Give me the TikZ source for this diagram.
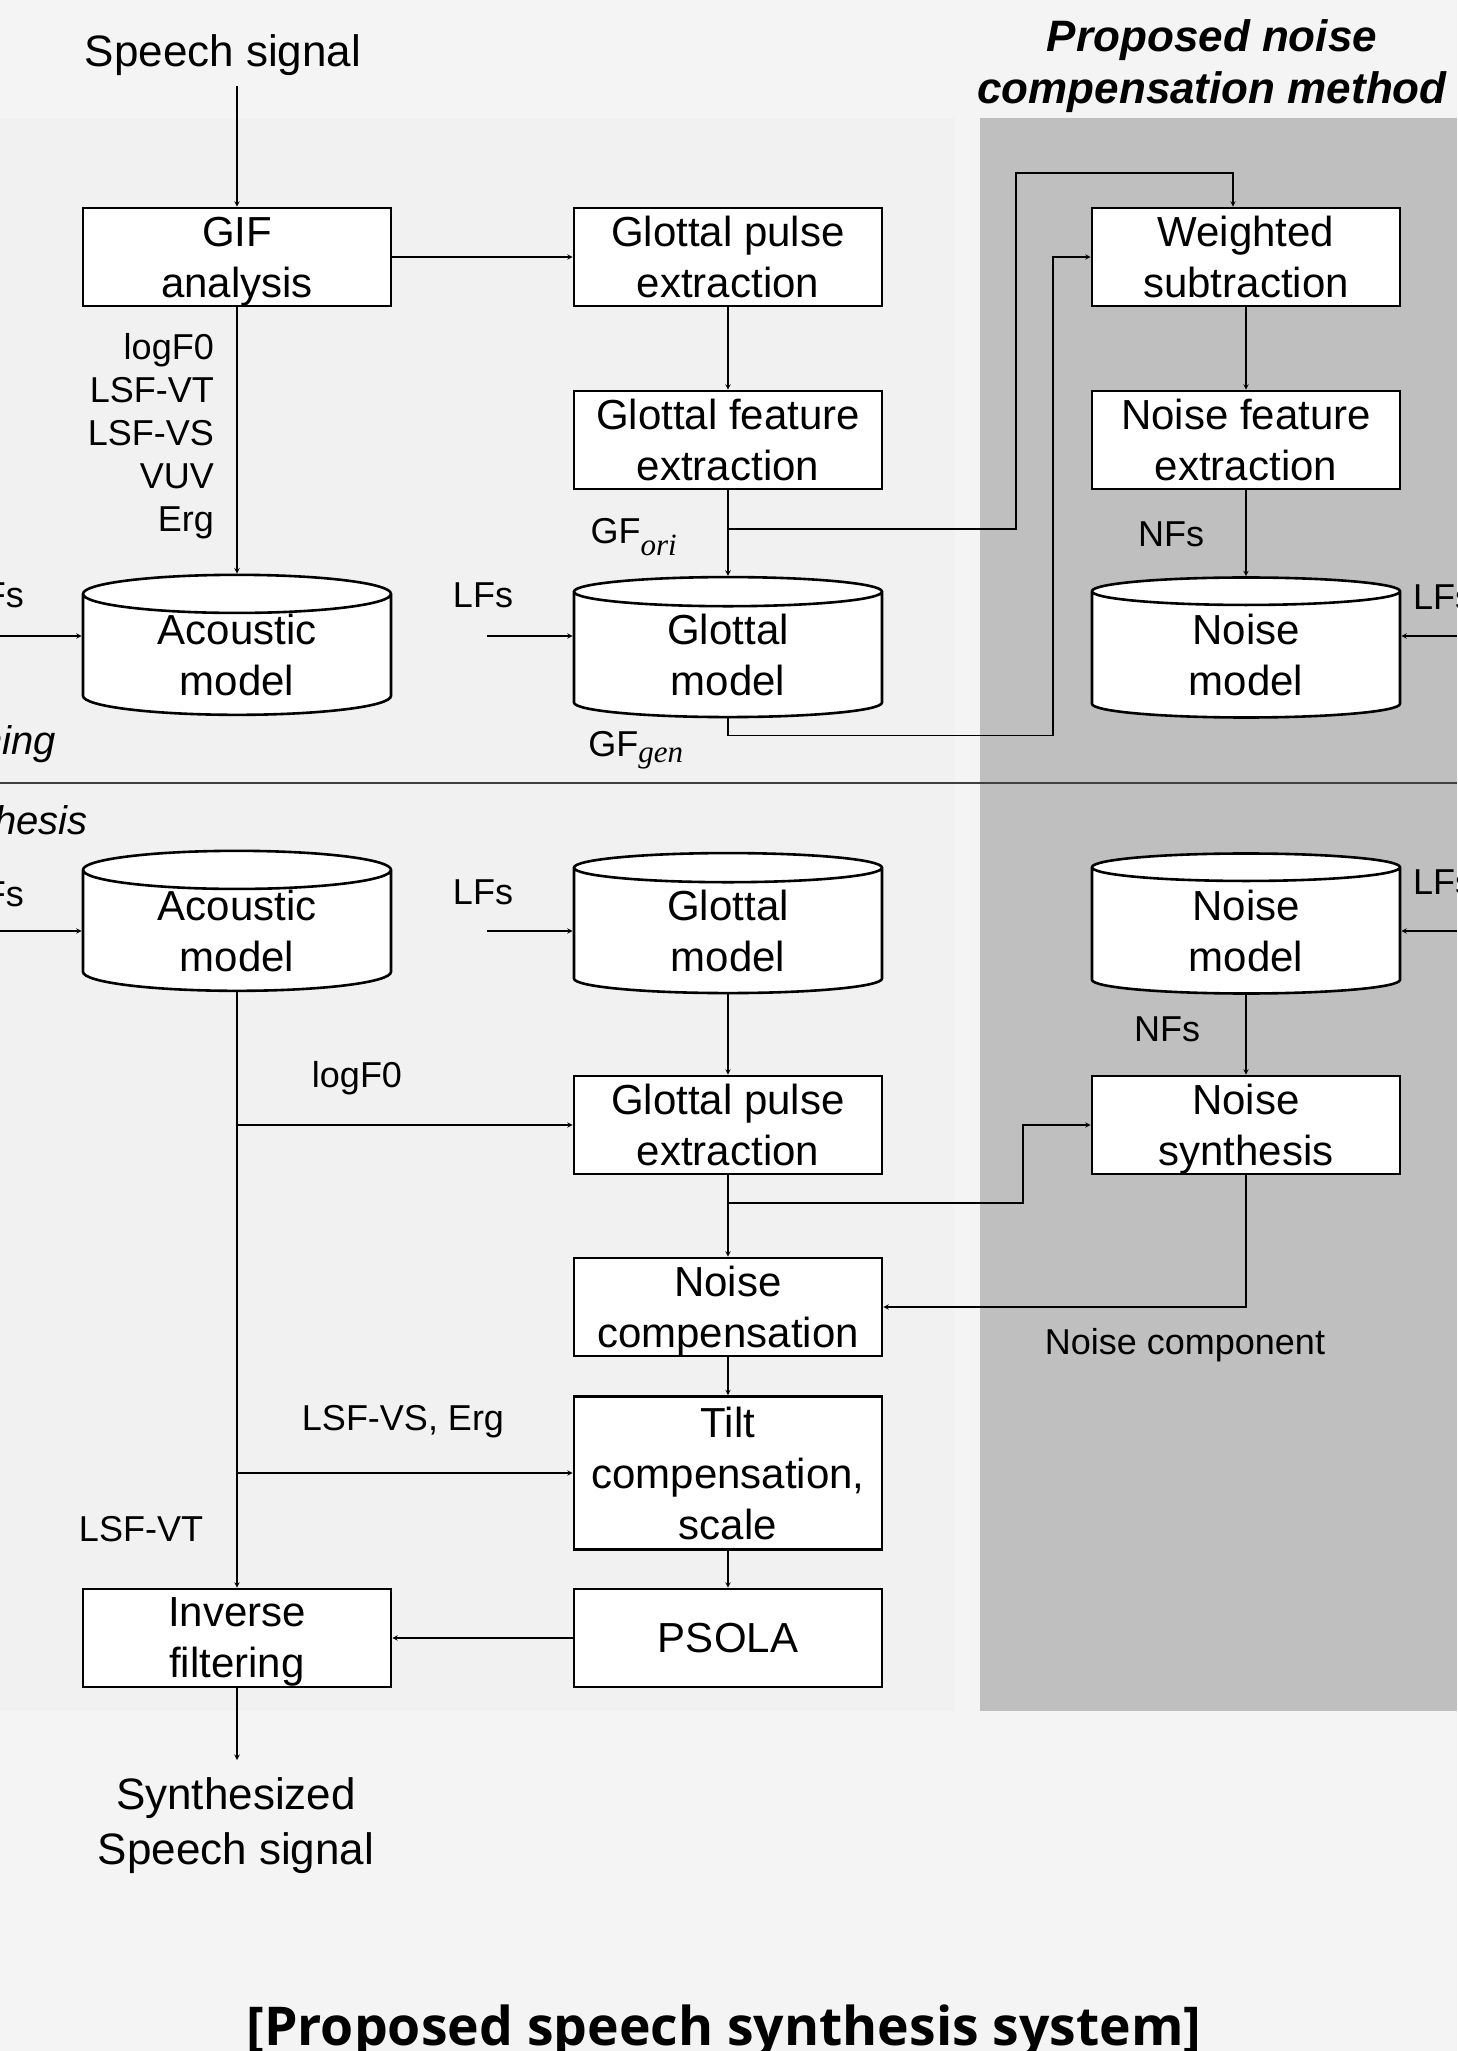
\documentclass[tikz,border=0pt]{standalone}
\usepackage{fontspec}
\setmainfont{Liberation Sans}
\newfontfamily\capfont{Open Sans}
\newfontfamily\subfont{Liberation Serif}
\usetikzlibrary{shapes.geometric}
\definecolor{bgout}{HTML}{F4F4F4}
\definecolor{bgin}{HTML}{F1F1F1}
\definecolor{panel}{HTML}{BFBFBF}

\begin{document}
\begin{tikzpicture}[x=1pt,y=-1pt,>=stealth,
  proc/.style={draw,line width=2.6pt,fill=white,minimum width=308pt,minimum height=98pt,
    inner sep=0pt,align=center,text depth=0pt,font=\fontsize{42}{51}\selectfont},
  db/.style={draw,line width=2.6pt,fill=white,cylinder,shape border rotate=90,aspect=0.24,
    minimum width=308pt,minimum height=140pt,inner sep=0pt,align=center,text depth=0pt,
    font=\fontsize{42}{51}\selectfont},
  lbl/.style={inner sep=0pt,font=\fontsize{36}{43}\selectfont},
  conn/.style={->,line width=1.4pt}]
\useasboundingbox (0,0) rectangle (1457,2051);
\clip (0,0) rectangle (1457,2051);

% background panels
\fill[bgout] (0,0) rectangle (1457,2051);
\fill[bgin] (0,118) rectangle (955,1711);
\fill[panel] (980,118) rectangle (1457,1711);
\draw[line width=2pt,black!75] (0,783) -- (1457,783);

% titles
\node[lbl,font=\fontsize{44}{53}\selectfont] (sig) at (223,55) {Speech signal};
\node[lbl,align=center,font=\bfseries\itshape\fontsize{44}{52}\selectfont] (pnc) at (1212,66)
  {Proposed noise\\compensation method};
\node[lbl,anchor=base east,font=\itshape\fontsize{40}{48}\selectfont] (train) at (56,754) {Training};
\node[lbl,anchor=base east,font=\itshape\fontsize{40}{48}\selectfont] (synth) at (88,834) {Synthesis};

% training part
\node[proc] (gif) at (237,257) {GIF\\analysis};
\node[proc] (gpe) at (728,257) {Glottal pulse\\extraction};
\node[proc] (ws) at (1246,257) {Weighted\\subtraction};
\node[proc] (gfe) at (728,440) {Glottal feature\\extraction};
\node[proc] (nfe) at (1246,440) {Noise feature\\extraction};
\node[db] (am1) at (237,655) {Acoustic\\model};
\node[db] (gm1) at (728,655) {Glottal\\model};
\node[db] (nm1) at (1246,655) {Noise\\model};

\node[lbl,align=right,anchor=east] (acfeat) at (214,436) {logF0\\LSF-VT\\LSF-VS\\VUV\\Erg};
\node[lbl] (gfori) at (634,537) {GF\textsubscript{\subfont\itshape\fontsize{31}{31}\selectfont ori}};
\node[lbl] (gfgen) at (636,750) {GF\textsubscript{\subfont\itshape\fontsize{31}{31}\selectfont gen}};
\node[lbl] (nfs1) at (1171,534) {NFs};
\node[lbl,anchor=east] (lfa1) at (24,595) {LFs};
\node[lbl] (lfg1) at (483,595) {LFs};
\node[lbl,anchor=west] (lfn1) at (1413,597) {LFs};

\coordinate (sigend) at (237,86);
\coordinate (lfa1in) at (0,636);
\coordinate (lfg1in) at (487,636);
\coordinate (lfn1in) at (1457,636);
\coordinate (orisplit) at (728,529);

\draw[conn] (sigend) -- (gif);
\draw[conn] (gif) -- (gpe);
\draw[conn] (gif) -- (am1);
\draw[conn] (gpe) -- (gfe);
\draw[conn] (gfe) -- (gm1);
\draw[conn] (orisplit) -| (1016,173) -| ([xshift=-13pt]ws.north);
\draw[conn] (gm1.south) -- ++(0,17) -| (1053,257) -- (ws.west);
\draw[conn] (ws) -- (nfe);
\draw[conn] (nfe) -- (nm1);
\draw[conn] (lfa1in) -- (lfa1in -| am1.west);
\draw[conn] (lfg1in) -- (lfg1in -| gm1.west);
\draw[conn] (lfn1in) -- (lfn1in -| nm1.east);

% synthesis part
\node[db] (am2) at (237,931) {Acoustic\\model};
\node[db] (gm2) at (728,931) {Glottal\\model};
\node[db] (nm2) at (1246,931) {Noise\\model};
\node[proc] (gpe2) at (728,1125) {Glottal pulse\\extraction};
\node[proc] (ns) at (1246,1125) {Noise\\synthesis};
\node[proc] (nc) at (728,1307) {Noise\\compensation};
\node[proc,minimum height=153pt] (tilt) at (728,1473) {Tilt\\compensation,\\scale};
\node[proc] (inv) at (237,1638) {Inverse\\filtering};
\node[proc] (psola) at (728,1638) {PSOLA};
\node[lbl,align=center,font=\fontsize{44}{55}\selectfont] (outsig) at (236,1826)
  {Synthesized\\Speech signal};

\node[lbl,anchor=east] (lfa2) at (24,894) {LFs};
\node[lbl] (lfg2) at (483,892) {LFs};
\node[lbl,anchor=west] (lfn2) at (1413,882) {LFs};
\node[lbl] (nfs2) at (1167,1029) {NFs};
\node[lbl] (f0lbl) at (357,1078) {logF0};
\node[lbl] (vslbl) at (403,1422) {LSF-VS, Erg};
\node[lbl] (vtlbl) at (141,1529) {LSF-VT};
\node[lbl] (nclbl) at (1185,1345) {Noise component};

\coordinate (lfa2in) at (0,931);
\coordinate (lfg2in) at (487,931);
\coordinate (lfn2in) at (1457,931);
\coordinate (gpsplit) at (728,1203);
\coordinate (outend) at (237,1760);

\draw[conn] (lfa2in) -- (lfa2in -| am2.west);
\draw[conn] (lfg2in) -- (lfg2in -| gm2.west);
\draw[conn] (lfn2in) -- (lfn2in -| nm2.east);
\draw[conn] (am2) -- (inv);
\draw[conn] (am2.south |- gpe2.west) -- (gpe2.west);
\draw[conn] (am2.south |- tilt.west) -- (tilt.west);
\draw[conn] (gm2) -- (gpe2);
\draw[conn] (nm2) -- (ns);
\draw[conn] (gpe2) -- (nc);
\draw[conn] (gpsplit) -| (1023,1125) -- (ns.west);
\draw[conn] (ns.south) |- (nc.east);
\draw[conn] (nc) -- (tilt);
\draw[conn] (tilt) -- (psola);
\draw[conn] (psola) -- (inv);
\draw[conn] (inv) -- (outend);

% caption
\node[font=\capfont\bfseries\fontsize{53.5}{60}\selectfont,anchor=base,inner sep=0pt] (cap)
  at (724,2045) {[Proposed speech synthesis system]};
\end{tikzpicture}
\end{document}
